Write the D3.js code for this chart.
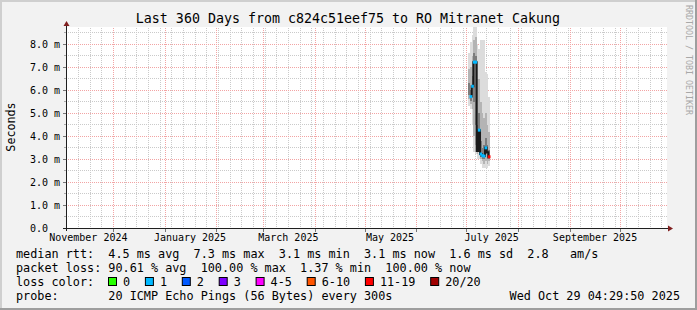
<!DOCTYPE html>
<html>
<head>
<meta charset="utf-8">
<script src="https://cdn.jsdelivr.net/npm/d3@7"></script>
<style>
  body { margin: 0; background: #f2f2f2; }
  text { font-family: "DejaVu Sans Mono", monospace; fill: #000; white-space: pre; }
</style>
</head>
<body>
<div id="chart"></div>
<script>
// ---- data ----
const endTime = new Date(Date.UTC(2025, 9, 29, 4, 29, 50));
const spanDays = 360;

// one entry per RRD step (1 day) in the only period that has replies
const days = ["2025-07-02", "2025-07-03", "2025-07-04", "2025-07-05", "2025-07-06", "2025-07-07",
              "2025-07-08", "2025-07-09", "2025-07-10", "2025-07-11", "2025-07-12", "2025-07-13", "2025-07-14"];
// median rtt in ms (null = no median)
const median   = [null, 5.72, 6.17, 7.22, 7.22, 3.35, 4.26, 3.22, 3.15, 3.13, 3.49, 3.30, 3.10];
// index into lossLabels (-1 = no loss colour drawn)
const lossBin  = [-1, 1, 1, 1, 1, -1, 1, 1, 1, 1, 1, -1, 6];
// smoke: spread of the 20 pings, ms
const smokeMin = [5.3, 5.2, 4.5, 3.3, 3.2, 3.0, 3.0, 2.8, 2.6, 2.6, 2.6, 2.6, 2.7];
const smokeP10 = [5.6, 5.4, 5.2, 4.0, 3.6, 3.2, 3.3, 3.0, 2.9, 2.8, 2.9, 2.8, 2.9];
const smokeP25 = [5.8, 5.55, 5.8, 5.5, 4.5, 3.4, 3.8, 3.1, 3.0, 3.0, 3.2, 3.0, 3.0];
const smokeP75 = [6.3, 6.0, 6.6, 7.6, 7.5, 4.5, 5.0, 3.8, 3.5, 3.6, 3.9, 3.6, 3.4];
const smokeP90 = [6.9, 7.0, 7.5, 8.2, 8.3, 6.5, 6.5, 5.5, 5.0, 4.8, 5.0, 4.5, 4.2];
const smokeMax = [7.6, 8.1, 8.4, 8.8, 8.8, 8.0, 7.8, 8.2, 8.2, 8.2, 6.8, 6.7, 5.7];

const yMax = 8.75;
const yMajor = [0, 1, 2, 3, 4, 5, 6, 7, 8];
const yMinor = [0.5, 1.5, 2.5, 3.5, 4.5, 5.5, 6.5, 7.5, 8.5];
const monthLabels = ["November 2024", "January 2025", "March 2025", "May 2025", "July 2025", "September 2025"];
const monthLabelDates = ["2024-11-16", "2025-01-16", "2025-03-16", "2025-05-16", "2025-07-16", "2025-09-16"];

const lossLabels = ["0", "1", "2", "3", "4-5", "6-10", "11-19", "20/20"];
const lossColors = ["#26ff00", "#00b8ff", "#0059ff", "#7e00ff", "#ff00ff", "#ff5500", "#ff0000", "#a00000"];

const title = "Last 360 Days from c824c51eef75 to RO Mitranet Cakung";
const legendRtt  = "median rtt:  4.5 ms avg  7.3 ms max  3.1 ms min  3.1 ms now  1.6 ms sd  2.8   am/s";
const legendLoss = "packet loss: 90.61 % avg  100.00 % max  1.37 % min  100.00 % now";
const legendProbe = "probe:       20 ICMP Echo Pings (56 Bytes) every 300s";
const stamp = "Wed Oct 29 04:29:50 2025";

// ---- drawing ----
const W = 697, H = 310;
const plot = { left: 67, right: 667, top: 27, bottom: 228 };

const svg = d3.select("#chart").append("svg")
    .attr("width", W)
    .attr("height", H);

// dotted grid patterns (1 px on, 1 px off)
const minorCol = "#cacaca", majorCol = "#f2a4a4";
const defs = svg.append("defs");
function dots(id, w, h, col) {
    defs.append("pattern")
        .attr("id", id)
        .attr("patternUnits", "userSpaceOnUse")
        .attr("width", w).attr("height", h)
        .append("rect").attr("width", 1).attr("height", 1).attr("fill", col);
}
dots("minH", 2, 1, minorCol);
dots("minV", 1, 2, minorCol);
dots("majH", 2, 1, majorCol);
dots("majV", 1, 2, majorCol);

// background + 3d frame
svg.append("rect").attr("width", W).attr("height", H).attr("fill", "#f2f2f2");
svg.append("rect").attr("x", 0).attr("y", 0).attr("width", W).attr("height", 2).attr("fill", "#cfcfcf");
svg.append("rect").attr("x", 0).attr("y", 0).attr("width", 2).attr("height", H).attr("fill", "#cfcfcf");
svg.append("rect").attr("x", 0).attr("y", H - 2).attr("width", W).attr("height", 2).attr("fill", "#9e9e9e");
svg.append("rect").attr("x", W - 2).attr("y", 0).attr("width", 2).attr("height", H).attr("fill", "#9e9e9e");

// canvas
svg.append("rect")
    .attr("x", plot.left).attr("y", plot.top)
    .attr("width", plot.right - plot.left).attr("height", plot.bottom - plot.top)
    .attr("fill", "#fff");

const x = d3.scaleUtc()
    .domain([d3.utcDay.offset(endTime, -spanDays), endTime])
    .range([plot.left, plot.right]);
const y = d3.scaleLinear()
    .domain([0, yMax])
    .range([plot.bottom, plot.top]);

const fl = v => Math.floor(v);

// grid
let grid = svg.append("g").attr("shape-rendering", "crispEdges");
let weeks = d3.utcSunday.range(x.domain()[0], x.domain()[1]);
let months = d3.utcMonth.range(x.domain()[0], x.domain()[1]);

grid.selectAll(".vmin").data(weeks).join("rect").attr("class", "vmin")
    .attr("x", d => fl(x(d))).attr("width", 1)
    .attr("y", plot.top).attr("height", plot.bottom - plot.top)
    .attr("fill", "url(#minV)");
grid.selectAll(".hmin").data(yMinor.filter(v => v < yMax)).join("rect").attr("class", "hmin")
    .attr("x", plot.left).attr("width", plot.right - plot.left)
    .attr("y", d => fl(y(d))).attr("height", 1)
    .attr("fill", "url(#minH)");
grid.selectAll(".vmaj").data(months).join("rect").attr("class", "vmaj")
    .attr("x", d => fl(x(d))).attr("width", 1)
    .attr("y", plot.top).attr("height", plot.bottom - plot.top)
    .attr("fill", "#fff");
grid.selectAll(".vmaj2").data(months).join("rect").attr("class", "vmaj2")
    .attr("x", d => fl(x(d))).attr("width", 1)
    .attr("y", plot.top).attr("height", plot.bottom - plot.top)
    .attr("fill", "url(#majV)");
grid.selectAll(".hmaj").data(yMajor.slice(1)).join("rect").attr("class", "hmaj")
    .attr("x", plot.left).attr("width", plot.right - plot.left)
    .attr("y", d => fl(y(d))).attr("height", 1)
    .attr("fill", "url(#majH)");

// tick marks outside the canvas
grid.selectAll(".ytick").data(yMajor.slice(1)).join("rect").attr("class", "ytick")
    .attr("x", plot.left - 4).attr("width", 3)
    .attr("y", d => fl(y(d))).attr("height", 1)
    .attr("fill", "#777");
grid.selectAll(".ytickm").data(yMinor.filter(v => v < yMax)).join("rect").attr("class", "ytickm")
    .attr("x", plot.left - 3).attr("width", 2)
    .attr("y", d => fl(y(d))).attr("height", 1)
    .attr("fill", "#aaa");
grid.selectAll(".xtick").data(months).join("rect").attr("class", "xtick")
    .attr("x", d => fl(x(d))).attr("width", 1)
    .attr("y", plot.bottom + 1).attr("height", 3)
    .attr("fill", "#777");

// smoke
const rows = days.map((d, i) => ({
    t0: new Date(d + "T00:00:00Z"),
    t1: d3.utcDay.offset(new Date(d + "T00:00:00Z"), 1),
    med: median[i], loss: lossBin[i],
    bands: [
        [smokeMin[i], smokeMax[i], "#dcdcdc"],
        [smokeP10[i], smokeP90[i], "#b4b4b4"],
        [smokeP25[i], smokeP75[i], "#7c7c7c"]
    ]
}));

let smoke = svg.append("g").attr("shape-rendering", "crispEdges");
rows.forEach(r => {
    r.bands.forEach(b => {
        smoke.append("rect")
            .attr("x", x(r.t0))
            .attr("width", x(r.t1) - x(r.t0))
            .attr("y", y(Math.min(b[1], yMax)))
            .attr("height", y(b[0]) - y(Math.min(b[1], yMax)))
            .attr("fill", b[2]);
    });
});

// median line
let medPts = rows.map(r => r).concat([{ t0: rows[rows.length - 1].t1, med: rows[rows.length - 1].med }]);
let line = d3.line()
    .defined(d => d.med != null)
    .x(d => x(d.t0))
    .y(d => y(d.med))
    .curve(d3.curveStepAfter);
svg.append("path")
    .datum(medPts)
    .attr("d", line)
    .attr("fill", "none")
    .attr("stroke", "#1a1a1a")
    .attr("stroke-width", 2);

// loss colour on the median
svg.append("g").selectAll("line").data(rows.filter(r => r.med != null && r.loss >= 0)).join("line")
    .attr("x1", d => x(d.t0) - 0.5).attr("x2", d => x(d.t1) + 0.5)
    .attr("y1", d => y(d.med)).attr("y2", d => y(d.med))
    .attr("stroke", d => lossColors[d.loss])
    .attr("stroke-width", 3);

// axes
svg.append("line")
    .attr("x1", plot.left - 0.5).attr("x2", plot.left - 0.5)
    .attr("y1", plot.bottom + 3).attr("y2", plot.top - 3)
    .attr("stroke", "#1f1f1f");
svg.append("line")
    .attr("x1", plot.left - 4).attr("x2", plot.right + 3)
    .attr("y1", plot.bottom + 0.5).attr("y2", plot.bottom + 0.5)
    .attr("stroke", "#1f1f1f");
svg.append("path")
    .attr("d", `M${plot.left - 3.5},${plot.top - 1} L${plot.left - 0.5},${plot.top - 6} L${plot.left + 2.5},${plot.top - 1} Z`)
    .attr("fill", "#801f1f");
svg.append("path")
    .attr("d", `M${plot.right + 1},${plot.bottom - 2.5} L${plot.right + 6},${plot.bottom + 0.5} L${plot.right + 1},${plot.bottom + 3.5} Z`)
    .attr("fill", "#801f1f");

// y labels
svg.append("g").selectAll("text").data(yMajor).join("text")
    .attr("x", 30)
    .attr("y", d => y(d) + 3.5)
    .attr("font-size", "10px")
    .text(d => d === 0 ? d3.format(".1f")(d) : d3.format(".1f")(d) + " m");

// x labels
svg.append("g").selectAll("text").data(monthLabels).join("text")
    .attr("x", (d, i) => x(new Date(monthLabelDates[i] + "T00:00:00Z")))
    .attr("y", 241)
    .attr("text-anchor", "middle")
    .attr("font-size", "10px")
    .text(d => d);

// title
svg.append("text")
    .attr("x", 348).attr("y", 23)
    .attr("text-anchor", "middle")
    .attr("font-size", "13.3px")
    .text(title);

// y axis title
svg.append("text")
    .attr("transform", "translate(15,127) rotate(-90)")
    .attr("text-anchor", "middle")
    .attr("font-size", "11.7px")
    .text("Seconds");

// watermark
svg.append("text")
    .attr("transform", "translate(686,5) rotate(90)")
    .attr("font-size", "8.3px")
    .style("fill", "#a8a8a8")
    .text("RRDTOOL / TOBI OETIKER");

// legend
const lg = svg.append("g").attr("font-size", "11.8px");
lg.append("text").attr("x", 16).attr("y", 257.5).text(legendRtt);
lg.append("text").attr("x", 16).attr("y", 271.5).text(legendLoss);
lg.append("text").attr("x", 16).attr("y", 285.5).text("loss color:");
lg.append("text").attr("x", 16).attr("y", 299.5).text(legendProbe);
lg.append("text").attr("x", 680).attr("y", 299.5).attr("text-anchor", "end").text(stamp);

const charW = 7.1;
let bx = 108.5;
lossLabels.forEach((lab, i) => {
    lg.append("rect")
        .attr("x", bx).attr("y", 277.5)
        .attr("width", 8).attr("height", 8)
        .attr("fill", lossColors[i])
        .attr("stroke", "#000");
    lg.append("text").attr("x", bx + 14.5).attr("y", 285.5).text(lab);
    bx += 14.5 + lab.length * charW + 15.3;
});
</script>
</body>
</html>
